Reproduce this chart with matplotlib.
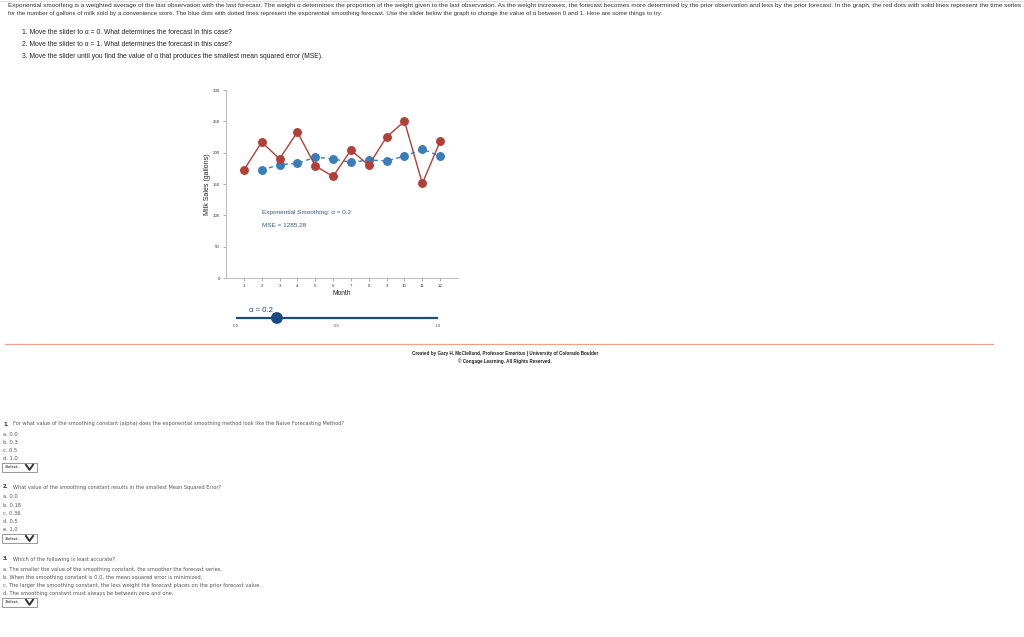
import numpy as np
import matplotlib.pyplot as plt
from matplotlib.patches import Rectangle, Circle

plt.rcParams['font.family'] = ['Liberation Sans', 'DejaVu Sans']

# data
months = [1, 2, 3, 4, 5, 6, 7, 8, 9, 10, 11, 12]
sales = [172, 217, 190, 233, 179, 162, 204, 180, 225, 250, 151, 218]
forecast_months = [2, 3, 4, 5, 6, 7, 8, 9, 10, 11, 12]
forecast = [172, 181, 182.8, 192.84, 190.07, 184.46, 188.37, 186.69, 194.36, 205.48, 194.59]
alpha = 0.2
mse = 1285.28
y_ticks = [0, 50, 100, 150, 200, 250, 300]
slider_ticks = [0.0, 0.5, 1.0]

intro = [
    "Exponential smoothing is a weighted average of the last observation with the last forecast. The weight \u03b1 determines the proportion of the weight given to the last observation. As the weight increases, the forecast becomes more determined by the prior observation and less by the prior forecast. In the graph, the red dots with solid lines represent the time series",
    "for the number of gallons of milk sold by a convenience store. The blue dots with dotted lines represent the exponential smoothing forecast. Use the slider below the graph to change the value of \u03b1 between 0 and 1. Here are some things to try:",
]
tries = [
    "1. Move the slider to \u03b1 = 0. What determines the forecast in this case?",
    "2. Move the slider to \u03b1 = 1. What determines the forecast in this case?",
    "3. Move the slider until you find the value of \u03b1 that produces the smallest mean squared error (MSE).",
]
credits = [
    "Created by Gary H. McClelland, Professor Emeritus | University of Colorado Boulder",
    "\u00a9 Cengage Learning. All Rights Reserved.",
]
questions = [
    ("1.", "For what value of the smoothing constant (alpha) does the exponential smoothing method look like the Naive Forecasting Method?",
     ["a. 0.0", "b. 0.3", "c. 0.5", "d. 1.0"]),
    ("2.", "What value of the smoothing constant results in the smallest Mean Squared Error?",
     ["a. 0.0", "b. 0.18", "c. 0.36", "d. 0.5", "e. 1.0"]),
    ("3.", "Which of the following is least accurate?",
     ["a. The smaller the value of the smoothing constant, the smoother the forecast series.",
      "b. When the smoothing constant is 0.0, the mean squared error is minimized.",
      "c. The larger the smoothing constant, the less weight the forecast places on the prior forecast value.",
      "d. The smoothing constant must always be between zero and one."]),
]

W, H = 1024, 637
fig = plt.figure(figsize=(W / 100, H / 100), dpi=100)

# page overlay in pixel coordinates
page = fig.add_axes([0, 0, 1, 1])
page.set_xlim(0, W)
page.set_ylim(H, 0)
page.axis("off")

page.plot([0, W], [1, 1], color="#dddddd", lw=0.8)
page.text(8, 6, intro[0], fontsize=4.57, color="#333333", va="center")
page.text(8, 13, intro[1], fontsize=4.46, color="#333333", va="center")
for i, line in enumerate(tries):
    page.text(22, 33 + i * 11.5, line, fontsize=4.88, color="#222222", va="center")

# slider
sx0, sx1, sy = 236, 438, 318
page.plot([sx0, sx1], [sy, sy], color="#1d4a80", lw=1.6, solid_capstyle="butt")
page.add_patch(Circle((sx0 + alpha * (sx1 - sx0) + 0.5, sy), 5.2, color="#1d4a80", zorder=5))
page.text(236 + 13, 311, "\u03b1 = 0.2", fontsize=5.6, color="#1d4a80", va="center")
for t in slider_ticks:
    page.text(sx0 + t * (sx1 - sx0), 326, "%.1f" % t, fontsize=3.2, color="#555555",
              ha="center", va="center")

# separator and credits
page.plot([5, 993], [344, 344], color="#e9a488", lw=0.9)
page.text(505, 353, credits[0], fontsize=3.3, fontweight="bold", color="#222222", ha="center", va="center")
page.text(505, 361, credits[1], fontsize=3.3, fontweight="bold", color="#222222", ha="center", va="center")

# questions
q_top = [424, 487, 559]
opt_gap = 8.2
for (num, text, opts), y0 in zip(questions, q_top):
    page.text(3, y0, num, fontsize=3.8, fontweight="bold", color="#333333", va="center",
              family="DejaVu Sans")
    page.text(13, y0, text, fontsize=3.6, color="#555555", va="center", family="DejaVu Sans")
    y = y0 + 10
    for o in opts:
        page.text(3, y, o, fontsize=3.7, color="#555555", va="center", family="DejaVu Sans")
        y += opt_gap
    by = y + 0.5
    page.add_patch(Rectangle((2, by - 4.5), 35, 9, fill=False, ec="#888888", lw=0.6))
    page.text(5, by, "-Select-", fontsize=3.0, fontweight="bold", color="#444444", va="center")
    page.plot([26, 29.5, 33], [by - 2.5, by + 2.5, by - 2.5], color="#333333", lw=1.4)

# chart area
left, right, top, bottom = 226, 458, 90, 278
ax = fig.add_axes([left / W, (H - bottom) / H, (right - left) / W, (bottom - top) / H])
ax.set_xlim(0, 13)
ax.set_ylim(0, 300)
ax.patch.set_alpha(0)
ax.plot(forecast_months, forecast, color="#3a7dbb", lw=1.0, ls=(0, (3, 2.5)), marker="o",
        ms=5.4, mec="#3a7dbb", mfc="#3a7dbb", zorder=3)
ax.plot(months, sales, color="#b23f38", lw=1.0, marker="o", ms=5.4, mec="#b23f38",
        mfc="#b23f38", zorder=4)

for s in ["top", "right"]:
    ax.spines[s].set_visible(False)
for s in ["left", "bottom"]:
    ax.spines[s].set_color("#bbbbbb")
    ax.spines[s].set_linewidth(0.7)
ax.set_xticks(months)
ax.set_yticks(y_ticks)
ax.tick_params(axis="both", length=2.5, width=0.5, color="#888888", labelsize=3.2, pad=2,
               labelcolor="#333333")
ax.set_xlabel("Month", fontsize=4.8, labelpad=1, color="#222222")
ax.set_ylabel("Milk Sales (gallons)", fontsize=5.0, color="#222222")
ax.yaxis.set_label_coords(-0.065, 0.5)

ax.text(2, 104, "Exponential Smoothing: \u03b1 = %.1f" % alpha, fontsize=4.6, color="#3b5a85", va="center")
ax.text(2, 84, "MSE = %.2f" % mse, fontsize=4.6, color="#3b5a85", va="center")

fig.savefig("out.png", dpi=100)
